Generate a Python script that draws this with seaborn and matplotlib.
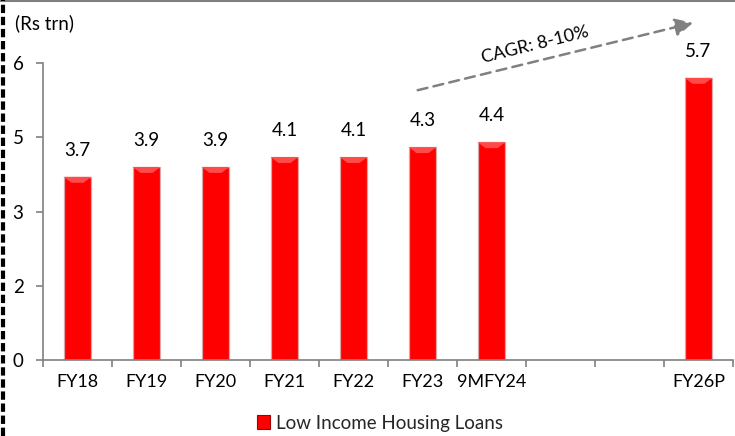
import numpy as np
import pandas as pd
import matplotlib
matplotlib.use("Agg")
import matplotlib.pyplot as plt
from matplotlib.lines import Line2D
from matplotlib.patches import Patch, Polygon
import seaborn as sns

periods = ["FY18", "FY19", "FY20", "FY21", "FY22", "FY23", "9MFY24", " ", "  ", "FY26P"]
loans = [3.7, 3.9, 3.9, 4.1, 4.1, 4.3, 4.4, np.nan, np.nan, 5.7]
label_text = ["3.7", "3.9", "3.9", "4.1", "4.1", "4.3", "4.4", "", "", "5.7"]
y_ticks = [0, 1.5, 3, 4.5, 6]
y_tick_labels = ["0", "2", "3", "5", "6"]
series_name = "Low Income Housing Loans"
unit_label = "(Rs trn)"
cagr_label = "CAGR: 8-10%"

df = pd.DataFrame({"period": periods, "value": loans})

sns.set_theme(style="white")
plt.rcParams["font.family"] = ["Lato", "DejaVu Sans"]

fig = plt.figure(figsize=(7.35, 4.36), dpi=100)
ax = fig.add_axes([43 / 735, 1 - 360 / 436, 690 / 735, (360 - 63) / 436])

sns.barplot(data=df, x="period", y="value", order=periods, width=0.4,
            color="#FF0000", saturation=1, edgecolor="#D8A8A8", linewidth=0.9,
            ax=ax)

# soft bevel on top of each bar
for bar in ax.patches:
    h = bar.get_height()
    if not np.isfinite(h) or h <= 0:
        continue
    x0, w = bar.get_x(), bar.get_width()
    d = 0.12
    bevel = Polygon([[x0, h], [x0 + w, h], [x0 + w * 0.72, h - d], [x0 + w * 0.28, h - d]],
                    closed=True, facecolor="#FF4A4A", edgecolor="none", zorder=bar.get_zorder() + 0.1)
    ax.add_patch(bevel)

ax.set_xlim(-0.5, len(periods) - 0.5)
ax.set_ylim(0, 6)
ax.set_yticks(y_ticks)
ax.set_yticklabels(y_tick_labels)
ax.set_xlabel("")
ax.set_ylabel("")

for sp in ["top", "right"]:
    ax.spines[sp].set_visible(False)
for sp in ["left", "bottom"]:
    ax.spines[sp].set_color("#808080")
    ax.spines[sp].set_linewidth(1.2)
ax.spines["bottom"].set_bounds(-0.5, len(periods) - 0.5)

ax.tick_params(axis="y", which="both", left=True, length=5, width=1.2,
               color="#808080", labelsize=13.5, pad=9, labelcolor="black")
ax.tick_params(axis="x", which="major", length=0, labelsize=13, pad=10,
               labelcolor="black")
# category-boundary ticks on the x axis
ax.set_xticks(np.arange(-0.5, len(periods)), minor=True)
ax.tick_params(axis="x", which="minor", bottom=True, length=5, width=1.2,
               color="#808080")

for i, (v, t) in enumerate(zip(loans, label_text)):
    if t:
        ax.annotate(t, (i, v), xytext=(0, 13), textcoords="offset points",
                    ha="center", va="bottom", fontsize=13.5, color="black")

# growth arrow
ax.annotate("", xy=(8.92, 6.81), xytext=(4.93, 5.45),
            arrowprops=dict(arrowstyle="-|>,head_length=0.9,head_width=0.45",
                            color="#808080", lw=1.8, linestyle=(0, (4, 2.5)),
                            shrinkA=0, shrinkB=0),
            annotation_clip=False)
ax.text(6.63, 6.36, cagr_label, rotation=14, ha="center", va="center",
        fontsize=13, color="black", clip_on=False)

fig.text(15 / 735, 1 - 23 / 436, unit_label, ha="left", va="center",
         fontsize=13.5, color="black")

handle = Patch(facecolor="#FF0000", edgecolor="#A00000", linewidth=0.8)
fig.legend([handle], [series_name], loc="center", bbox_to_anchor=(380 / 735, 1 - 423 / 436),
           frameon=False, fontsize=13.5, handlelength=0.7, handleheight=0.7,
           handletextpad=0.3)

# page border: top rule and dashed left edge
fig.add_artist(Line2D([0, 1], [0.998, 0.998], transform=fig.transFigure,
                      color="#808080", lw=1.5))
fig.add_artist(Line2D([2.5 / 735, 2.5 / 735], [0, 1], transform=fig.transFigure,
                      color="black", lw=3, linestyle=(0, (2, 0.9))))

fig.savefig("out.png", dpi=100)
